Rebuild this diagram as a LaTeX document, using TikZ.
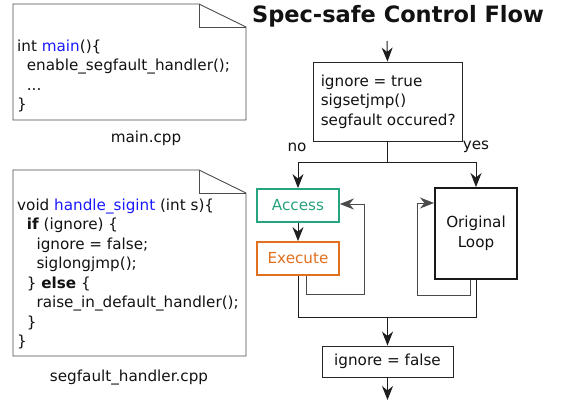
\documentclass[tikz,border=0pt]{standalone}
\usepackage{fontspec}
\setmainfont{DejaVu Sans}
\usetikzlibrary{arrows.meta,calc}
\definecolor{codeblue}{HTML}{1A1AFF}
\definecolor{accgreen}{HTML}{26A47F}
\definecolor{exeorange}{HTML}{E0701F}
\definecolor{lgray}{HTML}{1E1E1E}
\definecolor{loopgray}{HTML}{4A4A4A}
\begin{document}
\begin{tikzpicture}[x=1pt,y=-1pt,
  every node/.style={font=\fontsize{15.2}{19.5}\selectfont, text=black!93, inner sep=0pt},
  docline/.style={draw=black!70, line width=0.9pt},
  box/.style={draw=black!85, line width=0.9pt, rectangle, inner sep=0pt},
  conn/.style={draw=lgray, line width=1pt},
  loopc/.style={draw=loopgray, line width=1pt},
  tip/.style={-{Stealth[length=14pt,width=11pt,inset=4.5pt]}},
  arr/.style={conn, tip},
  looparr/.style={loopc, tip}
]
\useasboundingbox (0,0) rectangle (564,402);
\fill[white] (0,0) rectangle (564,402);

% title
\node[font=\bfseries\fontsize{22.5}{26}\selectfont] (title) at (398,16) {Spec-safe Control Flow};

% main.cpp document
\draw[docline] (13,4) -- (199,4) -- (246,27) -- (246,120) -- (13,120) -- cycle;
\draw[docline] (199,4) -- (199,27) -- (246,27);
\node[anchor=north west, align=left] (maincode) at (17,39.4) {int \textcolor{codeblue}{main}()\{\\
\ \ enable\_segfault\_handler();\\
\ \ ...\\
\}};
\node (mainlbl) at (146,138) {main.cpp};

% segfault_handler.cpp document
\draw[docline] (13,170) -- (199,170) -- (246,193) -- (246,356) -- (13,356) -- cycle;
\draw[docline] (199,170) -- (199,193) -- (246,193);
\node[anchor=north west, align=left] (segcode) at (17,198.4) {void \textcolor{codeblue}{handle\_sigint} (int s)\{\\
\ \ \textbf{if} (ignore) \{\\
\ \ \ \ ignore = false;\\
\ \ \ \ siglongjmp();\\
\ \ \} \textbf{else} \{\\
\ \ \ \ raise\_in\_default\_handler();\\
\ \ \}\\
\}};
\node (seglbl) at (129,378) {segfault\_handler.cpp};

% flowchart
\coordinate (start) at (387,41);
\node[box, minimum width=149pt, minimum height=79pt] (dec) at (387.5,101.5) {};
\node[anchor=west, align=left] (dectext) at ([xshift=8pt]dec.west) {ignore = true\\sigsetjmp()\\segfault occured?};
\node[box, draw=accgreen, text=accgreen, line width=1.8pt, minimum width=82pt, minimum height=33pt] (acc) at (298,205.5) {Access};
\node[box, draw=exeorange, text=exeorange, line width=1.8pt, minimum width=82pt, minimum height=33pt] (exe) at (298,258.5) {Execute};
\node[box, draw=black!90, line width=2pt, minimum width=82pt, minimum height=91pt, align=center] (orig) at (476,233.5) {Original\\Loop};
\node[box, minimum width=131pt, minimum height=31pt] (ign) at (387.5,361.5) {ignore = false};
\coordinate (endpt) at (387.5,400);
\coordinate (merge) at (387.5,317);

\node (no) at (297,147) {no};
\node (yes) at (476,147) {yes};

\draw[arr] (start) -- (dec.north);
\draw[arr] (dec.south) -- ++(0,21) -| (acc.north);
\draw[arr] (dec.south) -- ++(0,21) -| (orig.north);
\draw[arr] (acc.south) -- (exe.north);
\draw[looparr] ([xshift=8pt]exe.south) -- ++(0,19) -| ([xshift=25pt,yshift=1.5pt]acc.east) -- ([yshift=1.5pt]acc.east);
\draw[looparr] ([xshift=-6pt]orig.south) -- ++(0,15) -| ([xshift=-17pt,yshift=-16pt]orig.north west) -- ([yshift=-16pt]orig.north west);
\draw[conn] (exe.south) |- (merge);
\draw[conn] (orig.south) |- (merge);
\draw[arr] (merge) -- (ign.north);
\draw[arr] (ign.south) -- (endpt);
\end{tikzpicture}
\end{document}
